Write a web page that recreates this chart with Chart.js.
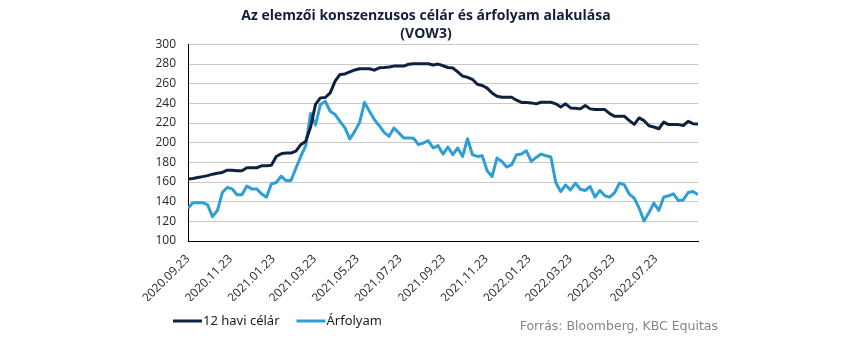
<!DOCTYPE html>
<html>
<head>
<meta charset="utf-8">
<script src="https://cdn.jsdelivr.net/npm/chart.js@4.4.1/dist/chart.umd.min.js"></script>
<style>
  html, body { margin: 0; padding: 0; background: #ffffff; }
  #wrap { width: 850px; height: 340px; }
</style>
</head>
<body>
<div id="wrap"><canvas id="chart" width="850" height="340"></canvas></div>
<script>
// Weekly observations, starting on the first date below
const firstWeek = '2020.09.23';

// 12-month consensus target price (EUR)
const targetPrice = [
  163, 163.5, 164.6, 165.5, 166.5, 168, 169, 169.7, 172, 172,
  171.5, 171.4, 174.5, 174.5, 174.5, 176.5, 176.5, 177, 186, 188.8,
  189.5, 189.5, 191.5, 198, 201.5, 216, 239, 245.6, 246, 250.7,
  262.6, 269.4, 270, 272, 274, 275.2, 275.2, 275.2, 273.8, 276.2,
  276.5, 277, 277.9, 277.9, 277.9, 279.8, 280.3, 280.3, 280.3, 280.3,
  279, 280, 278.3, 276.5, 276, 272, 267.7, 266.5, 264.5, 259.5,
  258.2, 255.5, 250.5, 247.2, 246.2, 246.2, 246.2, 243.2, 241, 240.8,
  240.5, 239.5, 241.1, 241.1, 241.1, 239.5, 236.2, 239.5, 235.4, 235,
  234.4, 237.8, 234.4, 233.7, 233.7, 233.7, 229.6, 226.8, 226.8, 226.8,
  222.4, 218.6, 225.2, 222.4, 217.3, 216, 214.2, 221, 218.4, 218.4,
  218.4, 217.5, 221.7, 219.4, 219.1
];

// Share price (EUR)
const sharePrice = [
  133.4, 139, 139, 139, 136.7, 124.8, 131, 149.3, 154.4, 153,
  147, 147, 156, 153, 153, 148, 144.6, 158, 159.5, 166,
  161.5, 161.5, 174, 186, 197, 229.6, 218, 238.8, 242, 232,
  228.6, 221.7, 215, 203.8, 211.5, 220.7, 241, 232, 223.5, 217.3,
  210.5, 206.5, 215, 210, 204.8, 204.8, 204.5, 198, 199.7, 202,
  194.6, 197, 188.4, 195.6, 187.8, 194.6, 186, 204, 187.8, 186,
  186.7, 171.4, 165.6, 184.4, 181, 175.2, 177.6, 187.8, 188.4, 191.8,
  181, 185, 188.4, 186.7, 185.4, 159.5, 150.3, 157, 152, 158.9,
  152.7, 151.4, 155.4, 144.6, 151.4, 146, 144.6, 149.3, 158.9, 157,
  147.6, 143.5, 133.4, 120.4, 128.9, 138.5, 131, 144.6, 146, 148,
  141, 141.8, 149.3, 150.3, 147
];

// Dates shown on the horizontal axis
const tickLabels = [
  '2020.09.23', '2020.11.23', '2021.01.23', '2021.03.23', '2021.05.23', '2021.07.23',
  '2021.09.23', '2021.11.23', '2022.01.23', '2022.03.23', '2022.05.23', '2022.07.23'
];

const seriesNames = ['12 havi célár', 'Árfolyam'];
const seriesColors = ['#0e2240', '#2e9fd2'];
const titleLines = ['Az elemzői konszenzusos célár és árfolyam alakulása', '(VOW3)'];
const sourceNote = 'Forrás: Bloomberg, KBC Equitas';

// ---- helpers -------------------------------------------------------------
const DAY = 86400000;
function toUTC(s) {
  const [y, m, d] = s.split('.').map(Number);
  return Date.UTC(y, m - 1, d);
}
const origin = toUTC(firstWeek);
const dayOffset = s => Math.round((toUTC(s) - origin) / DAY);

// one category per weekly observation
const weekDays = targetPrice.map((_, i) => i * 7);

const tickDays = tickLabels.map(dayOffset);
const labelByDay = {};
tickLabels.forEach((t, i) => { labelByDay[tickDays[i]] = t; });

const toPoints = values => values.map((v, i) => ({ x: weekDays[i], y: v }));

// Legend row and source line underneath the axis labels
const footer = {
  id: 'footer',
  afterDraw(chart) {
    const ctx = chart.ctx;
    ctx.save();
    const y = 321;
    let x = 173;
    ctx.font = '13px "Noto Sans"';
    ctx.textBaseline = 'middle';
    ctx.textAlign = 'left';
    chart.data.datasets.forEach(ds => {
      ctx.strokeStyle = ds.borderColor;
      ctx.lineWidth = 3;
      ctx.lineCap = 'butt';
      ctx.beginPath();
      ctx.moveTo(x, y);
      ctx.lineTo(x + 29, y);
      ctx.stroke();
      x += 30;
      ctx.fillStyle = '#1b1b1b';
      ctx.fillText(ds.label, x, y);
      x += ctx.measureText(ds.label).width + 17;
    });
    ctx.font = '12.5px "DejaVu Sans"';
    ctx.fillStyle = '#858585';
    ctx.textAlign = 'right';
    ctx.fillText(sourceNote, 718, 327);
    ctx.restore();
  }
};

new Chart(document.getElementById('chart'), {
  type: 'line',
  data: {
    datasets: [
      {
        label: seriesNames[0],
        data: toPoints(targetPrice),
        borderColor: seriesColors[0],
        backgroundColor: seriesColors[0],
        borderWidth: 3,
        pointRadius: 0,
        tension: 0,
        borderJoinStyle: 'round'
      },
      {
        label: seriesNames[1],
        data: toPoints(sharePrice),
        borderColor: seriesColors[1],
        backgroundColor: seriesColors[1],
        borderWidth: 3,
        pointRadius: 0,
        tension: 0,
        borderJoinStyle: 'round'
      }
    ]
  },
  options: {
    responsive: false,
    animation: false,
    devicePixelRatio: 1,
    layout: { padding: { left: 154, right: 152, top: 0, bottom: 39 } },
    plugins: {
      legend: { display: false },
      tooltip: { enabled: false },
      title: {
        display: true,
        text: titleLines,
        color: '#141d3a',
        font: { family: '"Open Sans"', size: 14, weight: 'bold', lineHeight: 1.3 },
        padding: { top: 7, bottom: 1 }
      }
    },
    scales: {
      x: {
        type: 'linear',
        min: 0,
        max: weekDays[weekDays.length - 1],
        offset: false,
        grid: { display: false, drawTicks: false },
        border: { display: true, color: '#000000', width: 1 },
        afterBuildTicks: scale => { scale.ticks = tickDays.map(v => ({ value: v })); },
        afterFit: scale => { scale.height = 60; },
        ticks: {
          autoSkip: false,
          minRotation: 45,
          maxRotation: 45,
          padding: 11,
          color: '#262626',
          font: { family: '"Open Sans"', size: 12 },
          callback: v => labelByDay[v] || ''
        }
      },
      y: {
        min: 100,
        max: 300,
        grid: { color: '#c9c9c9', lineWidth: 1, drawTicks: false },
        border: { display: true, color: '#000000', width: 1 },
        afterFit: scale => { scale.width = 34; },
        ticks: {
          stepSize: 20,
          padding: 12,
          color: '#262626',
          font: { family: '"Open Sans"', size: 12 }
        }
      }
    }
  },
  plugins: [footer]
});
</script>
</body>
</html>
